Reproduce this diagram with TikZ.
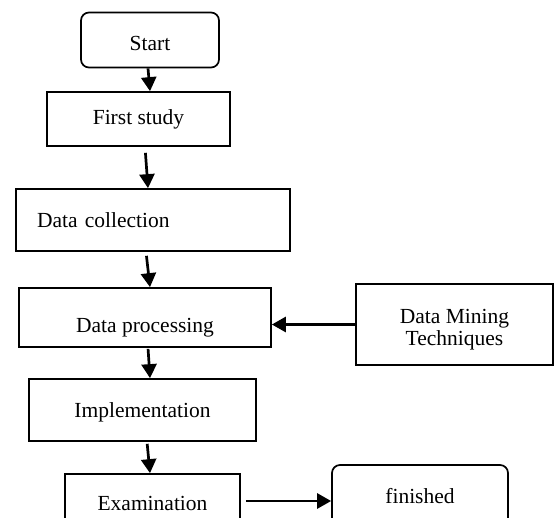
\documentclass[tikz,border=0pt]{standalone}
\usepackage{fontspec}
\setmainfont{Liberation Serif}
\usetikzlibrary{arrows.meta}
\tikzset{
    box/.style={draw, line width=1.7pt, inner sep=0pt, align=center},
    term/.style={box, rounded corners=8pt},
    oneline/.style={text height=#1, text depth=5pt},
    oneline/.default=16pt,
    flow/.style={-{Triangle[length=14pt,width=15pt]}, line width=2.7pt},
}
\begin{document}
\begin{tikzpicture}[x=1pt, y=-1pt, font=\fontsize{21.5pt}{22pt}\selectfont]
            \useasboundingbox (0,0) rectangle (554,517);
            \clip (0,0) rectangle (554,517);
            \node[term, oneline=25pt, minimum width=138pt, minimum height=55pt] (start) at (150,40) {Start};
            \node[box, oneline, minimum width=183pt, minimum height=54pt] (first) at (138.5,119) {First study};
            \node[box, oneline=20pt, minimum width=274pt, minimum height=62pt,
                text width=232pt, align=left, inner xsep=21pt] (collect) at (153,220) {Data collection};
            \node[box, oneline=35pt, minimum width=252pt, minimum height=59pt] (process) at (145,317.5) {Data processing};
            \node[box, text height=46pt, minimum width=197pt, minimum height=81pt] (mining) at (454.5,324.5) {Data Mining\\Techniques};
            \node[box, oneline=19pt, minimum width=227pt, minimum height=62pt] (impl) at (142.5,410) {Implementation};
            \node[box, oneline, minimum width=175pt, minimum height=62pt] (exam) at (152.5,505) {Examination};
            \node[term, oneline, minimum width=176pt, minimum height=66pt] (finish) at (420,498) {finished};
            % column of arrows: from/to/shift at from/shift at to/gap
            \foreach \a/\b/\sa/\sb/\g in {start/first/-2/11.5/0, first/collect/6.5/-5/6,
                collect/process/-7/5/4, process/impl/3/7.5/1, impl/exam/4.5/-2.5/2} {
                \draw[flow, shorten <=\g pt] ([xshift=\sa pt]\a.south) -- ([xshift=\sb pt]\b.north);
            }
            \draw[flow] (mining.west) -- (mining.west -| process.east);
            \draw[flow, shorten <=5pt] ([yshift=4pt]exam.east) -- ([yshift=4pt]exam.east -| finish.west);
\end{tikzpicture}
\end{document}
